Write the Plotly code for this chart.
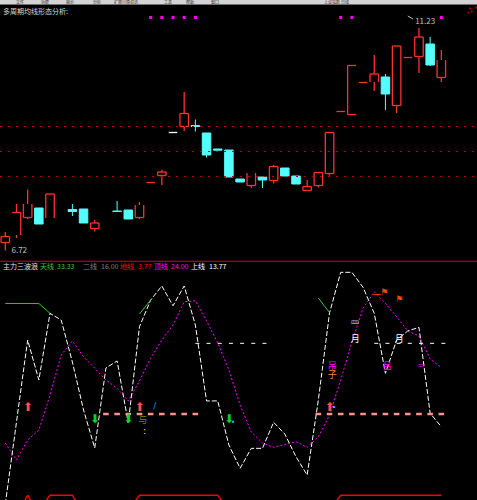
import plotly.graph_objects as go
from plotly.subplots import make_subplots

# Candles, one entry per bar (None = no candle that day)
bar_open = [6.87, 7.02, 7.37, 7.56, 7.36, None, 7.53, 7.54, 7.15, None, 7.50, 7.52, 7.37, 8.07, 8.21, 9.07, 9.19, 9.21, 9.06, 8.74,
            8.72, 8.14, 8.01, 8.18, 8.11, 8.36, 8.20, 7.91, 8.01, 8.25, 9.49, 9.43, 10.07, 10.08, 10.18, 9.61, 10.57, 10.59, 10.84, 10.17]
bar_high = [7.08, 7.64, 7.93, 7.56, 7.84, None, 7.64, 7.54, 7.32, None, 7.70, 7.52, 7.68, 8.07, 8.32, 9.07, 9.88, 9.33, 9.06, 8.74,
            8.72, 8.14, 8.26, 8.18, 8.42, 8.36, 8.20, 8.12, 8.27, 9.07, 9.49, 10.41, 10.07, 10.62, 10.24, 10.80, 10.57, 11.16, 10.98, 10.72]
bar_low = [6.71, 6.96, 7.34, 7.24, 7.36, None, 7.40, 7.26, 7.09, None, 7.49, 7.34, 7.34, 8.07, 8.02, 9.07, 9.10, 9.09, 8.57, 8.72,
           8.18, 8.08, 7.96, 7.96, 8.05, 8.20, 8.04, 7.91, 7.97, 8.21, 9.49, 9.43, 10.07, 9.90, 9.52, 9.46, 10.57, 10.26, 10.40, 10.08]
bar_close = [6.99, 7.47, 7.64, 7.24, 7.84, None, 7.49, 7.26, 7.26, None, 7.49, 7.34, 7.62, 8.07, 8.28, 9.07, 9.45, 9.19, 8.62, 8.72,
             8.18, 8.08, 8.26, 8.12, 8.39, 8.20, 8.04, 7.99, 8.27, 9.07, 9.49, 10.41, 10.07, 10.24, 9.84, 10.80, 10.57, 10.98, 10.42, 10.52]
falling_bars = [3, 6, 7, 10, 11, 17, 18, 19, 20, 21, 23, 25, 26, 34, 38]
white_dojis = [15]
# Outline edges that do not show up in the screenshot
hidden_edges = {1: "lb", 2: "t", 4: "b", 12: "t", 22: "t", 31: "r", 33: "b", 39: "t"}

price_levels = [9.19, 8.69, 8.19]
signal_days = [13, 14, 15, 16, 17, 30, 31, 39]
signal_price = 11.37
corner_days = [41.57, 41.72, 41.42, 42.1]
corner_prices = [11.55, 11.49, 11.47, 11.57]

# Indicator panel
white_line = [-70.4, 0.9, 73.9, 38.7, 97.4, 91.5, 54.6, 12.3, -21.1, 49.3, 55.5, 0.9, 85.6, 109.1, 121.5, 104.1, 121.5, 87.1, 20.3, 20.3,
              -18.5, -39.0, -21.4, -21.4, 1.5, -8.8, -28.8, -44.9, 21.1, 97.7, 133.5, 133.5, 120.3, 97.4, 44.6, 73.9, 81.9, 85.1, 9.4, -2.4]
magenta_line = [-16.7, -31.7, -14.1, -5.3, 25.5, 60.7, 73.1, 59.2, 49.0, 38.7, 31.4, 20.3, 37.9, 58.1, 73.9, 87.1, 107.6, 108.5, 90.7, 71.3,
                47.5, 16.7, -7.0, -16.7, -20.5, -17.8, -15.6, -20.5, -11.2, 7.9, 38.7, 72.4, 101.8, 116.4, 106.2, 94.4, 81.9, 77.5, 57.2, 49.6]
green_days = [0, 1, 2, 3, 4, None, 12, 13, None, 28, 29]
green_line = [106.1, 106.1, 106.1, 106.1, 97.4, None, 96.8, 109.1, None, 110.9, 98.0]
red_days = [1, 2, 3, None, 3, 4, 5, 6, 7, None, 11, 12, 13, 14, 15, 16, 17, 18, 19, 20, None, 29, 30, 31, 32, 33, 34, 35, 36, 37, 38, 39]
red_line = [-80, -62.7, -80, None, -75.7, -62.7, -62.7, -62.7, -80, None, -75.7, -62.7, -62.7, -62.7, -62.7, -62.7, -62.7, -62.7, -62.7, -75.7,
            None, -75.7, -62.7, -62.7, -62.7, -62.7, -62.7, -62.7, -62.7, -62.7, -62.7, -62.7]
indicator_levels = [79.8, 20]
upper_days = [17, 18, 19, 20, 21, 22, 23, 24, None, 33, 34, 35, 36, 37, 38, 39, 40]
upper_level = 71.0
lower_days = [9, 10, 11, 12, 13, 14, 15, 16, 17, 28, 29, 30, 31, 32, 33, 34, 35, 36, 37, 38, 39]
lower_level = 8.8
buy_days = [2, 12, 29]
buy_value = 14.4
sell_days = [8, 11, 20]
sell_value = 3.5
speck_days = [20.37, 29.4]
speck_values = [2.0, 15.0]

glyph_days = [33.9, 35.24, 33.25, 31.28, 31.3, 35.24, 29.25, 29.25, 37.18, 34.17, 12.29, 12.45, 13.36]
glyph_values = [115.5, 109.1, 113.3, 86.5, 74.1, 74.1, 50.8, 42.5, 51.6, 50.4, 3.0, -6.5, 15.0]
glyph_text = ["⚑", "⚑", "一", "罒", "月", "月", "吊", "子", "=", "吕", "与", ":", "/"]
glyph_colors = ["#ff4000", "#ff4000", "#ff4000", "#b0c4de", "#ffffff", "#ffffff", "#ff00ff", "#ff8040", "#ff00ff", "#ff00ff",
                "#808000", "#ffff00", "#1e90ff"]

legend_labels = ["主力三波浪", "天线", "33.33", "二线", "16.00", "地线", "3.77", "顶线", "24.00", "上线", "13.77"]
legend_px = [1, 38, 55, 81, 99, 118, 136, 152, 169, 189, 207]
legend_colors = ["#e0e0e0", "#40c040", "#40c040", "#808080", "#808080", "#ff0000", "#ff0000", "#ff00ff", "#ff00ff", "#ffffff", "#ffffff"]

menu_labels = ["文件", "功能", "报价", "分析", "扩展行情资讯", "工具", "帮助", "窗口", "上证指数 日线"]
menu_px = [15, 40, 65, 92, 113, 163, 185, 210, 323]

FONT = "Noto Sans CJK SC"
RED = "#ff3030"
CYAN = "#54ffff"
BODY = 0.38

days = list(range(len(bar_open)))

fig = make_subplots(rows=2, cols=1, shared_xaxes=True, vertical_spacing=0.002)

# Falling bars are the native candlestick, rising ones are outlines so edges can be left out
fig.add_trace(go.Candlestick(
    x=falling_bars,
    open=[bar_open[i] for i in falling_bars],
    high=[bar_high[i] for i in falling_bars],
    low=[bar_low[i] for i in falling_bars],
    close=[bar_close[i] for i in falling_bars],
    decreasing=dict(line=dict(color=CYAN, width=1), fillcolor=CYAN),
    increasing=dict(line=dict(color=CYAN, width=1), fillcolor=CYAN),
    whiskerwidth=0,
), row=1, col=1)

xs, ys = [], []
white_x, white_y = [], []
for i in days:
    if bar_open[i] is None or i in falling_bars:
        continue
    left, right = i - BODY, i + BODY
    top, bottom = bar_close[i], bar_open[i]
    if top == bottom:
        if i in white_dojis:
            white_x += [left, right, None]
            white_y += [top, top, None]
        else:
            xs += [left, right, None]
            ys += [top, top, None]
        continue
    hidden = hidden_edges.get(i, "")
    edges = {"t": ([left, right], [top, top]), "b": ([left, right], [bottom, bottom]),
             "l": ([left, left], [bottom, top]), "r": ([right, right], [bottom, top])}
    for name, (ex, ey) in edges.items():
        if name not in hidden:
            xs += ex + [None]
            ys += ey + [None]
    if bar_high[i] > top:
        xs += [i, i, None]
        ys += [top, bar_high[i], None]
    if bar_low[i] < bottom:
        xs += [i, i, None]
        ys += [bottom, bar_low[i], None]

fig.add_trace(go.Scatter(x=xs, y=ys, mode="lines", line=dict(color=RED, width=1.3)), row=1, col=1)
fig.add_trace(go.Scatter(x=white_x, y=white_y, mode="lines", line=dict(color="#ffffff", width=1.3)), row=1, col=1)

fig.add_trace(go.Scatter(x=signal_days, y=[signal_price] * len(signal_days), mode="markers",
                         marker=dict(symbol="square", size=3, color="#ff00ff")), row=1, col=1)
fig.add_trace(go.Scatter(x=corner_days, y=corner_prices, mode="markers",
                         marker=dict(symbol="square", size=2, color="#a00000")), row=1, col=1)
fig.add_trace(go.Scatter(x=[36.0, 36.47], y=[11.40, 11.34], mode="lines", line=dict(color="#c0c0c0", width=1)), row=1, col=1)
fig.add_trace(go.Scatter(x=[37.55, 1.25], y=[11.29, 6.71], mode="text", text=["11.23", "6.72"],
                         textfont=dict(color="#c0c0c0", size=8, family=FONT)), row=1, col=1)

for level in price_levels:
    fig.add_hline(y=level, line=dict(color="#b00000", width=1, dash="2px,6px"), row=1, col=1)
for level in indicator_levels:
    fig.add_hline(y=level, line=dict(color="#b00000", width=1, dash="2px,6px"), row=2, col=1)

fig.add_trace(go.Scatter(x=red_days, y=red_line, mode="lines", line=dict(color="#ff0000", width=1.3)), row=2, col=1)
fig.add_trace(go.Scatter(x=days, y=magenta_line, mode="lines", line=dict(color="#ff00ff", width=1, dash="2px,2px")), row=2, col=1)
fig.add_trace(go.Scatter(x=days, y=white_line, mode="lines", line=dict(color="#ffffff", width=1, dash="5px,2px")), row=2, col=1)
fig.add_trace(go.Scatter(x=green_days, y=green_line, mode="lines", line=dict(color="#40c040", width=1)), row=2, col=1)
fig.add_trace(go.Scatter(x=upper_days, y=[None if d is None else upper_level for d in upper_days], mode="lines",
                         line=dict(color="#ffffff", width=1, dash="4px,7.18px")), row=2, col=1)
fig.add_trace(go.Scatter(x=lower_days, y=[lower_level] * len(lower_days), mode="markers",
                         marker=dict(symbol="line-ew", size=4, line=dict(color="#ff9090", width=2.5))), row=2, col=1)
fig.add_trace(go.Scatter(x=buy_days, y=[buy_value] * len(buy_days), mode="text", text=["⬆"] * len(buy_days),
                         textfont=dict(color="#ff5050", size=12, family="DejaVu Sans")), row=2, col=1)
fig.add_trace(go.Scatter(x=sell_days, y=[sell_value] * len(sell_days), mode="text", text=["⬇"] * len(sell_days),
                         textfont=dict(color="#00d820", size=12, family="DejaVu Sans")), row=2, col=1)
fig.add_trace(go.Scatter(x=speck_days, y=speck_values, mode="markers",
                         marker=dict(symbol="square", size=2, color="#00c0ff")), row=2, col=1)
fig.add_trace(go.Scatter(x=glyph_days, y=glyph_values, mode="text", text=glyph_text,
                         textfont=dict(color=glyph_colors, size=9, family="DejaVu Sans, " + FONT)), row=2, col=1)

fig.update_xaxes(range=[-0.474, 42.19], visible=False, rangeslider_visible=False)
fig.update_yaxes(visible=False)
fig.update_yaxes(range=[6.5, 11.72], domain=[0.478, 1], row=1, col=1)
fig.update_yaxes(range=[-66.86, 142.58], domain=[0, 0.476], row=2, col=1)

# Window chrome above the chart and the divider between panels
fig.add_shape(type="rect", xref="paper", yref="paper", x0=0, x1=1, y0=0.991, y1=1, fillcolor="#d4d4d4", line_width=0)
fig.add_shape(type="line", xref="paper", yref="paper", x0=0, x1=1, y0=0.991, y1=0.991, line=dict(color="#707070", width=1))
fig.add_shape(type="line", xref="paper", yref="paper", x0=0, x1=1, y0=0.4775, y1=0.4775, line=dict(color="#e00000", width=1))

for label, px in zip(menu_labels, menu_px):
    fig.add_annotation(text=label, xref="paper", yref="paper", x=px / 477, y=0.9955, xanchor="left", yanchor="middle",
                       showarrow=False, borderpad=0, font=dict(color="#303030", size=4, family=FONT))
fig.add_annotation(text="多周期均线形态分析:", xref="paper", yref="paper", x=1 / 477, y=1 - 11 / 500, xanchor="left", yanchor="middle",
                   showarrow=False, font=dict(color="#d8d8d8", size=7, family=FONT))
for label, px, color in zip(legend_labels, legend_px, legend_colors):
    fig.add_annotation(text=label, xref="paper", yref="paper", x=px / 477, y=1 - 266 / 500, xanchor="left", yanchor="middle",
                       showarrow=False, font=dict(color=color, size=7, family=FONT))

fig.update_layout(
    width=477,
    height=500,
    margin=dict(l=0, r=0, t=0, b=0),
    paper_bgcolor="#000000",
    plot_bgcolor="#000000",
    showlegend=False,
    boxgap=0.24,
    boxgroupgap=0,
)

fig.write_html("out.html", config={"displayModeBar": False},
               post_script="document.body.style.margin='0';document.body.style.overflow='hidden';")
